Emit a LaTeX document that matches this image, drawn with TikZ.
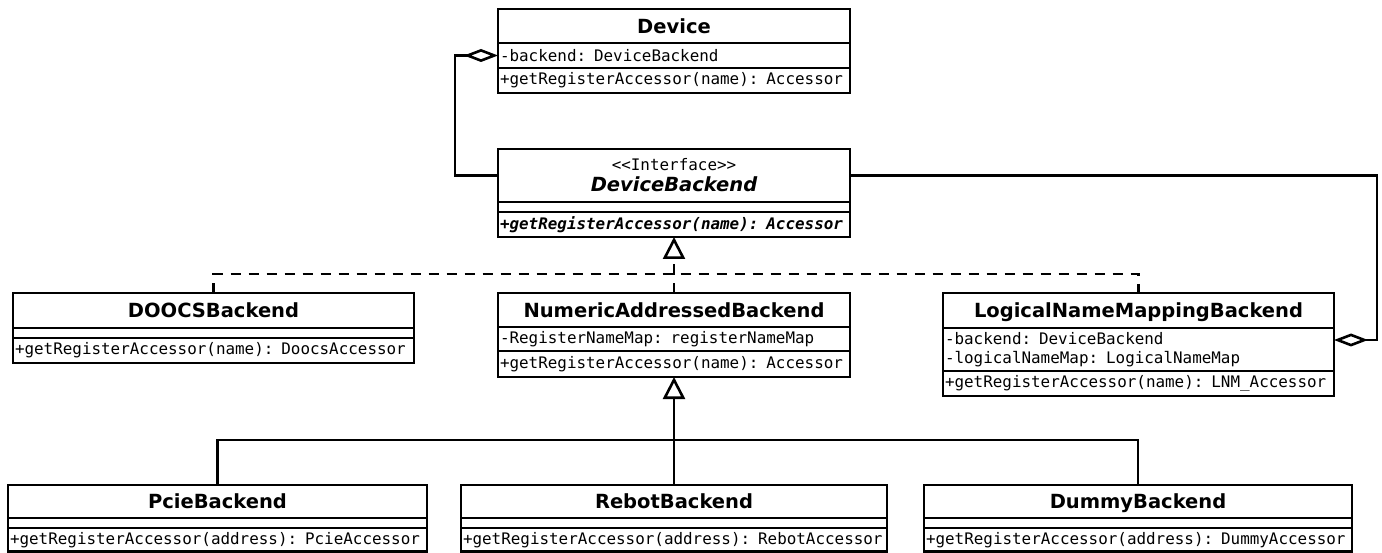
\documentclass[tikz,border=0pt]{standalone}
\usepackage{fontspec}
\setmainfont{DejaVu Sans}
\setmonofont{DejaVu Sans Mono}
\newfontfamily\stereof{DejaVu Sans Mono}[Ligatures=TeXOff]
\usetikzlibrary{arrows.meta}
\tikzset{
  x=1pt, y=-1pt,
  comp/.style={draw, line width=2.6pt, anchor=north west, inner sep=0pt, outer sep=0pt},
  ttl/.style n args={2}{comp, minimum width=#1pt, minimum height=#2pt,
    font=\fontsize{19.5}{22}\selectfont\bfseries, align=center},
  fixt/.style={text height=14.4pt, text depth=0pt},
  mem/.style n args={3}{comp, minimum width=#1pt, text width=#2pt, minimum height=#3pt,
    inner xsep=2pt, font=\fontsize{15.9}{19.5}\selectfont\ttfamily, align=left},
  emp/.style n args={2}{comp, minimum width=#1pt, minimum height=#2pt},
  conn/.style={line width=2.6pt},
  agg/.style={conn, {Diamond[open,length=34pt,width=13pt]}-},
  gen/.style={conn, -{Triangle[open,length=22pt,width=22pt]}},
  dsh/.style={conn, dash pattern=on 10pt off 8pt},
  real/.style={dsh, -{Triangle[open,length=22pt,width=22pt]}},
}
\begin{document}
\begin{tikzpicture}
\useasboundingbox (0,0) rectangle (1382,553);
\fill[white] (0,0) rectangle (1382,553);

% Device
\node[ttl={352}{34}, fixt] (devT) at (498,9) {Device};
\node[mem={352}{348}{25}] (devA) at (498,43) {-backend: DeviceBackend};
\node[mem={352}{348}{25}] (devM) at (498,68) {+getRegisterAccessor(name): Accessor};

% DeviceBackend
\node[ttl={352}{53}] (dbT) at (498,149) {{\stereof\mdseries\fontsize{15.9}{19}\selectfont <<Interface>>}\\[-1pt]\itshape DeviceBackend};
\node[emp={352}{10}] (dbA) at (498,202) {};
\node[mem={352}{348}{25}] (dbM) at (498,212) {\bfseries\itshape +getRegisterAccessor(name): Accessor};

% DOOCSBackend
\node[ttl={401}{35}, fixt] (doocsT) at (13,293) {DOOCSBackend};
\node[emp={401}{10}] (doocsA) at (13,328) {};
\node[mem={401}{397}{25}] (doocsM) at (13,338) {+getRegisterAccessor(name): DoocsAccessor};

% NumericAddressedBackend
\node[ttl={352}{34}, fixt] (nabT) at (498,293) {NumericAddressedBackend};
\node[mem={352}{348}{24}] (nabA) at (498,327) {-RegisterNameMap: registerNameMap};
\node[mem={352}{348}{26}] (nabM) at (498,351) {+getRegisterAccessor(name): Accessor};

% LogicalNameMappingBackend
\node[ttl={391}{35}, fixt] (lnmT) at (943,293) {LogicalNameMappingBackend};
\node[mem={391}{387}{43}] (lnmA) at (943,328) {-backend: DeviceBackend\\-logicalNameMap: LogicalNameMap};
\node[mem={391}{387}{25}] (lnmM) at (943,371) {+getRegisterAccessor(name): LNM\_Accessor};
\coordinate (lnmB) at (1334,340);

% PcieBackend
\node[ttl={419}{33}, fixt] (pcieT) at (8,485) {PcieBackend};
\node[emp={419}{10}] (pcieA) at (8,518) {};
\node[mem={419}{415}{23.5}] (pcieM) at (8,528) {+getRegisterAccessor(address): PcieAccessor};

% RebotBackend
\node[ttl={426}{33}, fixt] (rebotT) at (461,485) {RebotBackend};
\node[emp={426}{10}] (rebotA) at (461,518) {};
\node[mem={426}{422}{23.5}] (rebotM) at (461,528) {+getRegisterAccessor(address): RebotAccessor};

% DummyBackend
\node[ttl={428}{33}, fixt] (dummyT) at (924,485) {DummyBackend};
\node[emp={428}{10}] (dummyA) at (924,518) {};
\node[mem={428}{424}{23.5}] (dummyM) at (924,528) {+getRegisterAccessor(address): DummyAccessor};

% aggregations
\draw[agg] (devA.west) -- ++(-43,0) |- (dbT.west);
\draw[agg] (lnmB) -- ++(43,0) |- (dbT.east);

% realization
\coordinate (rbar) at (674,274);
\draw[real] (rbar) -- (dbM.south);
\draw[dsh] (doocsT.north) |- (rbar) -| (lnmT.north);
\draw[dsh] (nabT.north) -- (rbar);

% generalization
\coordinate (gbar) at (674,440);
\draw[gen] (rebotT.north) -- (nabM.south);
\draw[conn] (pcieT.north) |- (gbar) -| (dummyT.north);
\end{tikzpicture}
\end{document}
